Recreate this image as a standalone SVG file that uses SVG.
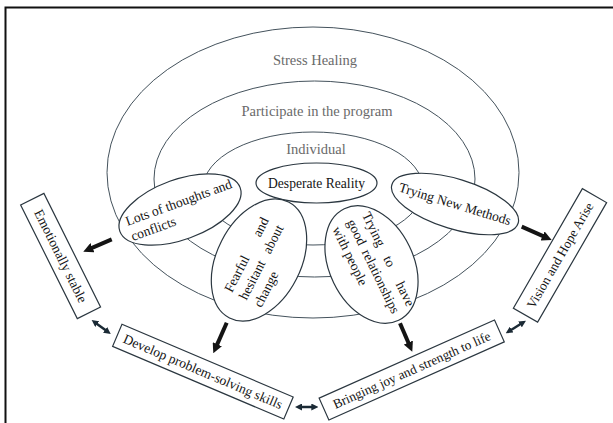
<svg xmlns="http://www.w3.org/2000/svg" width="613" height="423" viewBox="0 0 613 423">
<defs>
<style>
.ring{fill:none;stroke:#44525c;stroke-width:1}
.oval{fill:#fff;stroke:#2b3740;stroke-width:1.2}
.box{fill:#fff;stroke:#2b3740;stroke-width:1.2}
.lbl{font-family:"Liberation Serif",serif;font-size:14.5px;fill:#6a6a6a;text-anchor:middle}
.t{font-family:"Liberation Serif",serif;font-size:13.6px;fill:#151515}
.c{text-anchor:middle}
.e{text-anchor:end}
.arr{stroke:#141414;stroke-width:4;fill:none;marker-end:url(#ah)}
.darr{stroke:#1b2a35;stroke-width:2.5;fill:none;marker-start:url(#ah2);marker-end:url(#ah2)}
</style>
<marker id="ah" viewBox="0 0 10 10" refX="3" refY="5" markerWidth="10" markerHeight="10" markerUnits="userSpaceOnUse" orient="auto"><path d="M0,0 L10,5 L0,10 z" fill="#141414"/></marker>
<marker id="ah2" viewBox="0 0 10 10" refX="3" refY="5" markerWidth="7" markerHeight="7" markerUnits="userSpaceOnUse" orient="auto-start-reverse"><path d="M0,0 L10,5 L0,10 z" fill="#1b2a35"/></marker>
</defs>
<rect width="613" height="423" fill="#fff"/>
<rect x="5.5" y="7.5" width="620" height="430" fill="none" stroke="#111" stroke-width="2"/>

<g id="rings">
<g id="stress-healing"><ellipse class="ring" cx="313" cy="172.5" rx="206" ry="145.5"/><text class="lbl" x="315" y="65">Stress Healing</text></g>
<g id="participate"><ellipse class="ring" cx="314.5" cy="179" rx="160.5" ry="98"/><text class="lbl" x="317" y="116">Participate in the program</text></g>
<g id="individual"><ellipse class="ring" cx="313" cy="188.5" rx="110" ry="56.5"/><text class="lbl" x="316" y="154">Individual</text></g>
</g>

<g id="desperate-reality"><ellipse class="oval" cx="316.5" cy="183" rx="60.5" ry="20"/><text class="t c" x="316.5" y="187.5">Desperate Reality</text></g>

<g id="lots-of-thoughts" transform="translate(180,209.5) rotate(-20)">
<ellipse class="oval" rx="64" ry="30"/>
<text class="t" x="-55" y="-2.5">Lots of thoughts and</text>
<text class="t" x="-55" y="13.5">conflicts</text>
</g>

<g id="trying-new-methods" transform="translate(455,204) rotate(17)">
<ellipse class="oval" rx="66" ry="25"/>
<text class="t c" x="0" y="4.5">Trying New Methods</text>
</g>

<g id="fearful">
<ellipse class="oval" cx="0" cy="0" rx="42" ry="65" transform="translate(259,260) rotate(27)"/>
<g transform="translate(259,260) rotate(-63)">
<text class="t" x="-42" y="-9">Fearful</text><text class="t e" x="40" y="-9">and</text>
<text class="t" x="-42" y="7.5">hesitant</text><text class="t e" x="40" y="7.5">about</text>
<text class="t" x="-42" y="24">change</text>
</g>
</g>

<g id="trying-relationships">
<ellipse class="oval" cx="0" cy="0" rx="42" ry="62" transform="translate(371.5,264.5) rotate(-26)"/>
<g transform="translate(371.5,264.5) rotate(64)">
<text class="t" x="-49" y="-13">Trying</text><text class="t c" x="5" y="-13">to</text><text class="t e" x="54" y="-13">have</text>
<text class="t" x="-49" y="3.5">good</text><text class="t e" x="54" y="3.5">relationships</text>
<text class="t" x="-49" y="20">with people</text>
</g>
</g>

<g id="emotionally-stable" transform="translate(60.6,256) rotate(63.5)">
<rect class="box" x="-63.5" y="-13" width="127" height="26"/>
<text class="t c" x="0" y="4.5">Emotionally stable</text>
</g>

<g id="vision-hope" transform="translate(560,255.4) rotate(-60)">
<rect class="box" x="-69" y="-14" width="138" height="28"/>
<text class="t c" x="0" y="4.5" style="font-size:13.2px">Vision and Hope Arise</text>
</g>

<g id="develop-skills" transform="translate(202.9,371.7) rotate(23)">
<rect class="box" x="-93" y="-12" width="186" height="24"/>
<text class="t c" x="0" y="4.5">Develop problem-solving skills</text>
</g>

<g id="bringing-joy" transform="translate(411.7,370) rotate(-24)">
<rect class="box" x="-96" y="-12" width="192" height="24"/>
<text class="t c" x="0" y="4.5" style="font-size:13.3px">Bringing joy and strength to life</text>
</g>

<g id="connectors">
<line class="arr" x1="111.7" y1="239.3" x2="89.7" y2="248.9"/>
<line class="arr" x1="521.7" y1="226.7" x2="545.3" y2="237.2"/>
<line class="arr" x1="226.7" y1="322.7" x2="216.1" y2="346.9"/>
<line class="arr" x1="400" y1="323.3" x2="409.5" y2="345.3"/>
<line class="darr" x1="95.6" y1="322.9" x2="106.8" y2="331.1"/>
<line class="darr" x1="299.9" y1="407" x2="313.4" y2="407"/>
<line class="darr" x1="509.9" y1="330.7" x2="521.8" y2="323.3"/>
</g>
</svg>
